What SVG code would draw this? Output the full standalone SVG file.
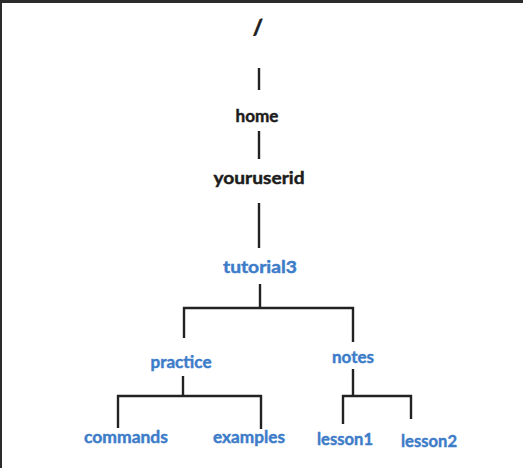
<svg xmlns="http://www.w3.org/2000/svg" width="523" height="468" viewBox="0 0 523 468">
<style>
.t{font-family:Lato,"Open Sans","Liberation Sans",sans-serif;font-weight:bold;font-size:17.5px;text-anchor:middle;stroke-width:0.45px}
.k{fill:#1c1c1c;stroke:#1c1c1c}
.b{fill:#3d7cc9;stroke:#3d7cc9}
.c line{stroke:#222;stroke-width:2.4;stroke-linecap:butt}
</style>
<rect x="0" y="0" width="523" height="468" fill="#ffffff"/>
<rect x="0" y="0" width="523" height="3" fill="#2b2b2b"/>
<rect x="0" y="0" width="2" height="468" fill="#2b2b2b"/>
<g class="c" id="connectors">
<line x1="259" y1="68" x2="259" y2="90"/>
<line x1="259" y1="131" x2="259" y2="159"/>
<line x1="259" y1="203" x2="259" y2="248"/>
<line x1="260" y1="284" x2="260" y2="308"/>
<line x1="183" y1="308" x2="354" y2="308"/>
<line x1="184" y1="307" x2="184" y2="338"/>
<line x1="353" y1="307" x2="353" y2="342"/>
<line x1="183" y1="376" x2="183" y2="396"/>
<line x1="117" y1="396" x2="262" y2="396"/>
<line x1="118" y1="395" x2="118" y2="428"/>
<line x1="261" y1="395" x2="261" y2="429"/>
<line x1="353" y1="369" x2="353" y2="396"/>
<line x1="342" y1="396" x2="412" y2="396"/>
<line x1="343" y1="395" x2="343" y2="424"/>
<line x1="411" y1="395" x2="411" y2="419"/>
</g>
<g id="root"><text class="t k" x="258" y="35" style="font-size:21px;stroke-width:0.8px">/</text></g>
<g id="home"><text class="t k" x="257" y="122" textLength="43" lengthAdjust="spacingAndGlyphs">home</text></g>
<g id="youruserid"><text class="t k" x="259" y="184" textLength="91" lengthAdjust="spacingAndGlyphs">youruserid</text></g>
<g id="tutorial3"><text class="t b" x="260" y="273" textLength="74" lengthAdjust="spacingAndGlyphs">tutorial3</text></g>
<g id="practice"><text class="t b" x="181" y="368" textLength="61" lengthAdjust="spacingAndGlyphs">practice</text></g>
<g id="notes"><text class="t b" x="353" y="363" textLength="42" lengthAdjust="spacingAndGlyphs">notes</text></g>
<g id="commands"><text class="t b" x="126" y="443" textLength="84" lengthAdjust="spacingAndGlyphs">commands</text></g>
<g id="examples"><text class="t b" x="249" y="443" textLength="72" lengthAdjust="spacingAndGlyphs">examples</text></g>
<g id="lesson1"><text class="t b" x="345" y="445" textLength="56" lengthAdjust="spacingAndGlyphs">lesson1</text></g>
<g id="lesson2"><text class="t b" x="429" y="447" textLength="56" lengthAdjust="spacingAndGlyphs">lesson2</text></g>
</svg>
